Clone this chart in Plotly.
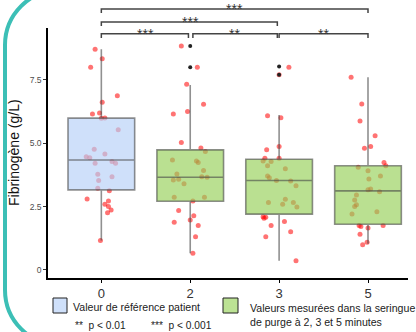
import plotly.graph_objects as go

# ---------------- data ----------------
categories = ["0", "2", "3", "5"]
y_tick_values = [0, 2.5, 5, 7.5]
y_tick_labels = ["0", "2.5", "5.0", "7.5"]

q1 = [3.16, 2.71, 2.20, 1.80]
median = [4.34, 3.66, 3.53, 3.12]
q3 = [5.99, 4.74, 4.37, 4.11]
lower_whisker = [1.16, 0.66, 0.36, 1.03]
upper_whisker = [8.71, 7.30, 6.12, 7.61]

values_0 = [8.71, 8.34, 8.00, 6.88, 6.62, 6.15, 6.19, 5.99, 6.00, 5.53, 4.76, 4.58, 4.47, 4.43,
            4.28, 4.21, 4.21, 3.78, 3.68, 3.53, 3.22, 3.12, 2.80, 2.72, 2.59, 2.50, 2.36, 2.26, 1.16]
jitter_0 = [-0.07, 0.01, -0.12, 0.18, 0.01, -0.10, -0.02, 0.0, 0.04, 0.19, -0.08, 0.04, -0.17, -0.13,
            0.12, 0.16, -0.07, -0.04, 0.12, -0.03, -0.04, 0.09, -0.16, 0.08, 0.04, 0.08, 0.11, 0.07, -0.01]

values_2 = [8.84, 8.00, 7.33, 6.54, 6.15, 6.25, 5.03, 4.81, 4.67, 4.34, 4.30, 4.24, 3.92, 3.79, 3.68,
            3.66, 3.55, 3.58, 3.40, 2.87, 2.87, 2.72, 2.34, 2.14, 1.88, 1.97, 1.75, 1.31, 0.66]
jitter_2 = [-0.10, 0.08, -0.04, 0.15, -0.19, -0.03, -0.10, 0.12, 0.17, -0.20, 0.07, 0.09, 0.15, -0.15, 0.13,
            0.19, -0.19, -0.13, -0.07, -0.18, 0.16, 0.03, -0.13, 0.04, -0.18, 0.0, 0.09, 0.06, 0.03]

values_3 = [8.00, 7.70, 6.09, 6.01, 4.74, 4.87, 4.41, 4.41, 4.30, 4.28, 4.11, 3.99, 3.71, 3.64, 3.53,
            3.51, 3.32, 2.79, 2.66, 2.59, 2.66, 2.48, 2.10, 2.08, 2.04, 1.75, 1.91, 1.51, 1.31, 0.36]
jitter_3 = [0.11, 0.0, -0.13, 0.02, -0.14, 0.0, -0.16, 0.0, -0.18, -0.09, -0.13, 0.07, -0.13, -0.11, -0.03,
            0.13, 0.19, 0.07, -0.12, 0.04, 0.16, 0.20, -0.18, -0.15, -0.17, -0.09, 0.06, 0.13, -0.15, 0.19]

values_5 = [7.61, 6.55, 5.88, 5.30, 4.87, 4.80, 4.24, 4.11, 4.05, 3.91, 3.71, 3.59, 3.16, 3.19,
            3.09, 2.96, 2.76, 2.57, 2.50, 2.30, 2.21, 1.75, 1.71, 1.65, 1.75, 1.41, 1.09, 0.99]
jitter_5 = [-0.19, -0.07, -0.09, 0.08, 0.03, -0.04, 0.18, 0.20, -0.11, 0.0, 0.14, 0.01, 0.0, 0.03,
            0.13, -0.13, -0.15, -0.13, -0.15, 0.10, -0.18, -0.10, -0.08, 0.0, 0.17, -0.09, -0.01, -0.06]

outlier_groups = [1, 1, 2, 2]
outlier_values = [8.84, 8.00, 8.03, 7.70]

sig_from = [0, 1, 2, 0, 0]
sig_to = [1, 2, 3, 2, 3]
sig_labels = ["***", "**", "**", "***", "***"]
sig_heights = [9.32, 9.32, 9.32, 9.79, 10.30]

legend_labels = ["Valeur de référence patient",
                 "Valeurs mesurées dans la seringue<br>de purge à 2, 3 et 5 minutes"]
footnotes = ["**  p < 0.01", "***  p < 0.001"]

# ---------------- styling ----------------
W, H = 416, 332
ML, MR, MT, MB = 48, 8, 28, 54
YR = [-0.32, 9.55]
XR = [-0.6, 3.45]
FONT = "Liberation Sans, Arial, sans-serif"
box_fills = ["rgba(182,208,248,0.66)", "rgba(150,208,88,0.66)",
             "rgba(150,208,88,0.66)", "rgba(150,208,88,0.66)"]
legend_fills = ["#cfe0fa", "#bce294"]
TEAL = "#3cbfb6"


def px(p):
    return (p - ML) / (W - ML - MR)


def py(p):
    return (H - MB - p) / (H - MT - MB)


def vpaper(v):
    return (v - YR[0]) / (YR[1] - YR[0])


fig = go.Figure()

# jittered points (base subplot, under the boxes)
all_vals = [values_0, values_2, values_3, values_5]
all_jit = [jitter_0, jitter_2, jitter_3, jitter_5]
for i, (vals, jit) in enumerate(zip(all_vals, all_jit)):
    fig.add_trace(go.Scatter(
        x=[i + j for j in jit], y=vals, mode="markers",
        marker=dict(color="rgba(255,0,0,0.55)", size=5, line=dict(width=0)),
        showlegend=False, hoverinfo="skip", xaxis="x", yaxis="y"))

# boxes on overlaying subplot (drawn above points)
for i in range(len(categories)):
    fig.add_trace(go.Box(
        x=[i], q1=[q1[i]], median=[median[i]], q3=[q3[i]],
        lowerfence=[lower_whisker[i]], upperfence=[upper_whisker[i]],
        width=0.75, whiskerwidth=0, boxpoints=False,
        fillcolor=box_fills[i], line=dict(color="rgba(70,70,70,0.6)", width=1.6),
        showlegend=False, xaxis="x2", yaxis="y2"))

fig.add_trace(go.Scatter(
    x=outlier_groups, y=outlier_values, mode="markers",
    marker=dict(color="#222222", size=4), showlegend=False, xaxis="x2", yaxis="y2"))

shapes = []
annotations = []

# significance brackets
tip = 0.16
for a, b, lab, h in zip(sig_from, sig_to, sig_labels, sig_heights):
    xa = a + (0.03 if a == 1 else 0.0)
    xb = b - (0.02 if b in (1, 2) else 0.0)
    y1 = vpaper(h)
    y0 = vpaper(h - tip)
    shapes.append(dict(type="path", xref="x", yref="paper",
                       path=f"M {xa},{y0} L {xa},{y1} L {xb},{y1} L {xb},{y0}",
                       line=dict(color="#444444", width=1.5)))
    annotations.append(dict(x=(a + b) / 2, y=y1, xref="x", yref="paper", text=lab,
                            showarrow=False, xanchor="center", yanchor="middle",
                            font=dict(family=FONT, size=14, color="#333333")))

# teal rounded frame
k = 30.4
pts = [(60, -10), (60 - k, -10), (5, 45 - k), (5, 45), (5, 290), (5, 290 + k), (60 - k, 345), (60, 345)]
P = [(px(a), py(b)) for a, b in pts]
frame = (f"M {P[0][0]},{P[0][1]} C {P[1][0]},{P[1][1]} {P[2][0]},{P[2][1]} {P[3][0]},{P[3][1]} "
         f"L {P[4][0]},{P[4][1]} C {P[5][0]},{P[5][1]} {P[6][0]},{P[6][1]} {P[7][0]},{P[7][1]}")
shapes.append(dict(type="path", xref="paper", yref="paper", path=frame,
                   line=dict(color=TEAL, width=4)))

# legend
for (x0, x1), fill in zip([(53, 67), (223, 238)], legend_fills):
    shapes.append(dict(type="rect", xref="paper", yref="paper",
                       x0=px(x0), x1=px(x1), y0=py(313), y1=py(298),
                       fillcolor=fill, line=dict(color="#222222", width=1)))
annotations.append(dict(x=px(71), y=py(306.5), xref="paper", yref="paper", text=legend_labels[0],
                        showarrow=False, xanchor="left", yanchor="middle",
                        font=dict(family=FONT, size=10.6, color="#222222")))
annotations.append(dict(x=px(248), y=py(299.5), xref="paper", yref="paper", text=legend_labels[1],
                        showarrow=False, xanchor="left", yanchor="top", align="left",
                        font=dict(family=FONT, size=10.6, color="#222222")))
for xx, t in zip([73, 149], footnotes):
    annotations.append(dict(x=px(xx), y=py(325.5), xref="paper", yref="paper", text=t,
                            showarrow=False, xanchor="left", yanchor="middle",
                            font=dict(family=FONT, size=10.2, color="#222222")))

# y axis title
annotations.append(dict(x=px(14), y=0.5, xref="paper", yref="paper", text="Fibrinogène (g/L)",
                        showarrow=False, textangle=-90, xanchor="center", yanchor="middle",
                        font=dict(family=FONT, size=14, color="#111111")))

fig.update_layout(
    width=W, height=H,
    margin=dict(l=ML, r=MR, t=MT, b=MB, pad=0),
    paper_bgcolor="white", plot_bgcolor="white",
    boxmode="overlay",
    showlegend=False,
    shapes=shapes, annotations=annotations,
    xaxis=dict(range=XR, tickvals=list(range(len(categories))), ticktext=categories,
               showline=True, linecolor="black", linewidth=1.6, ticks="outside",
               ticklen=3, tickcolor="black", showgrid=False, zeroline=False,
               tickfont=dict(family=FONT, size=13, color="#333333")),
    yaxis=dict(range=YR, tickvals=y_tick_values, ticktext=y_tick_labels,
               showline=True, linecolor="black", linewidth=1.6, ticks="outside",
               ticklen=3, tickcolor="#333333", showgrid=False, zeroline=False,
               tickfont=dict(family=FONT, size=8.5, color="#4d4d4d")),
    xaxis2=dict(range=XR, overlaying="x", visible=False),
    yaxis2=dict(range=YR, overlaying="y", visible=False),
)

fig.write_html("out.html", config={"displayModeBar": False},
               post_script="document.body.style.margin='0px';document.body.style.overflow='hidden';")
